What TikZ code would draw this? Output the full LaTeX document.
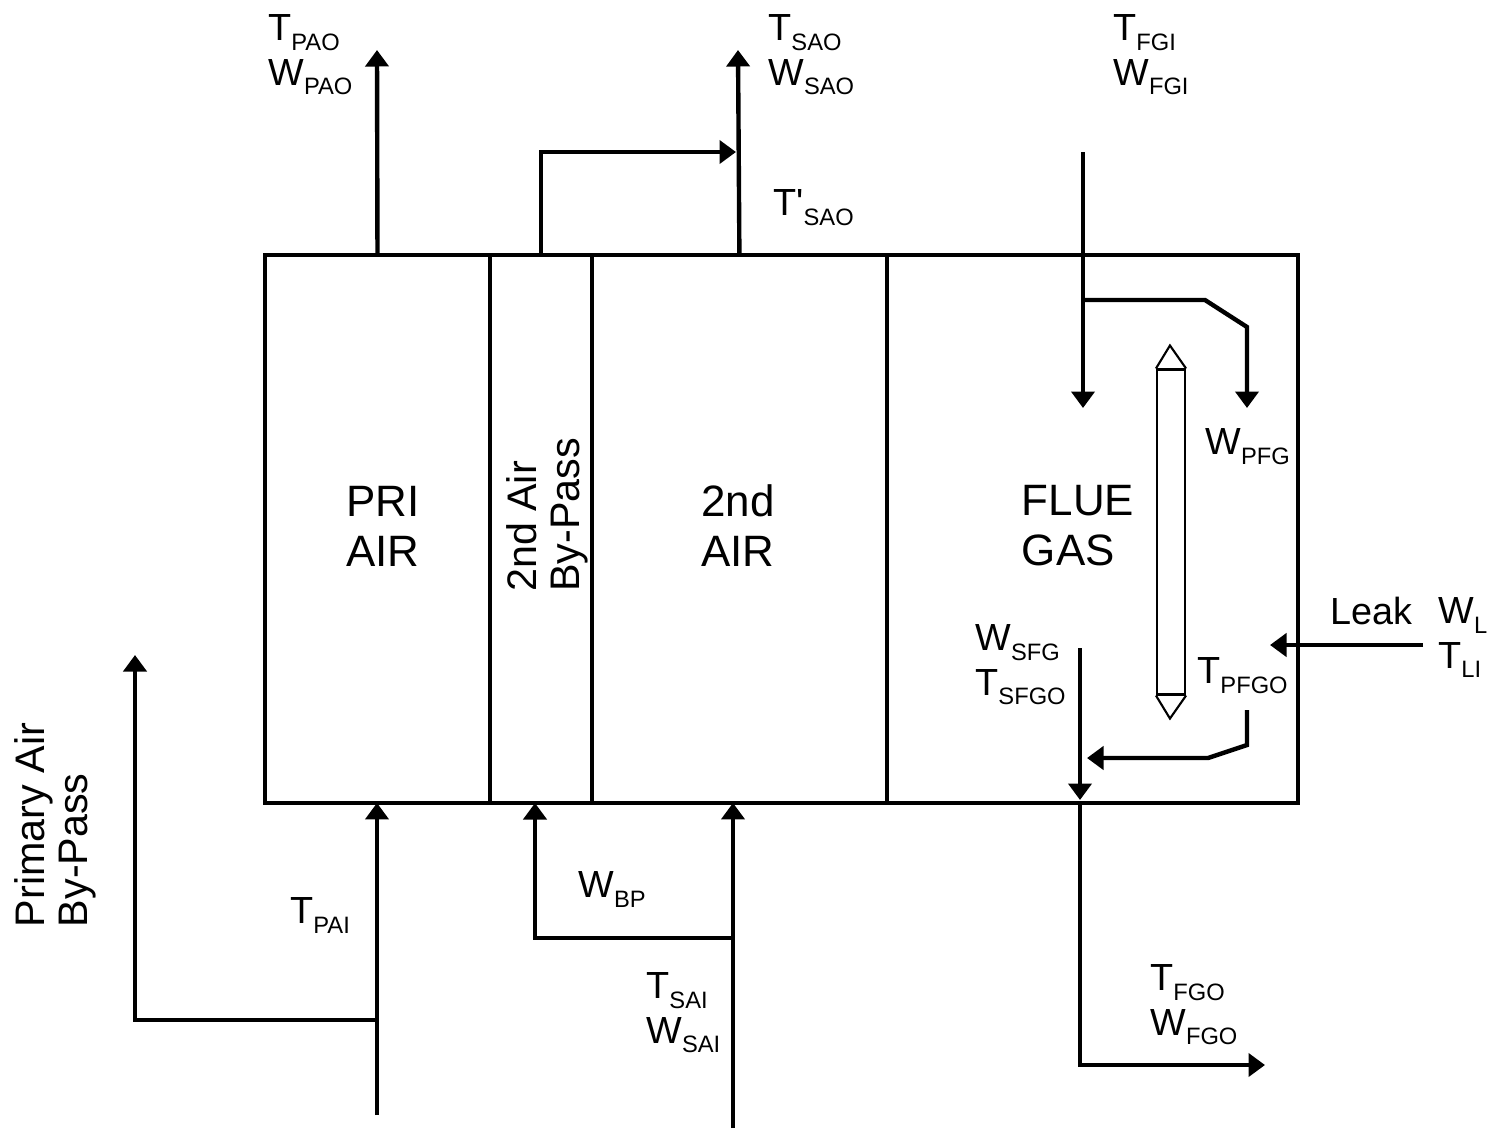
\documentclass[tikz,border=0pt]{standalone}
\usepackage{fontspec}
\setmainfont{Liberation Sans}
\usetikzlibrary{arrows.meta, positioning}

\newcommand{\flowvar}[2]{#1\raisebox{-5.5pt}{\fontsize{13.5}{13.5}\selectfont #2}}

\begin{document}
\begin{tikzpicture}[x=0.02cm, y=-0.02cm]

\tikzstyle{section}=[rectangle,draw,line width=2.3pt,outer sep=0pt,inner sep=0pt,minimum height=10.96cm]
\tikzstyle{big}=[font=\fontsize{25}{28.5}\selectfont,align=left]
\tikzstyle{side}=[font=\fontsize{23.5}{24.5}\selectfont,align=left,rotate=90]
\tikzstyle{var}=[font=\fontsize{21.5}{25.6}\selectfont,align=left,anchor=north west,inner sep=0pt]
\tikzstyle{flow}=[draw,line width=2.5pt,-{Triangle[length=0.33cm,width=0.46cm]}]
\tikzstyle{rim}=[line width=1.2pt]

\useasboundingbox (0,0) rectangle (1494,1130);

% heater sections
\node (pri) [section,minimum width=4.5cm,anchor=north west] at (265,255) {};
\node (bpass) [section,minimum width=2.04cm,right=0pt of pri] {};
\node (sec) [section,minimum width=5.9cm,right=0pt of bpass] {};
\node (flue) [section,minimum width=8.22cm,right=0pt of sec] {};

\node (pritxt) [big] at (383,526) {PRI\\AIR};
\node (bptxt) [side] at (547,515) {2nd Air\\By-Pass};
\node (sectxt) [big] at (738,526) {2nd\\AIR};
\node (fluetxt) [big] at (1078,526) {FLUE\\GAS};
\node (pabtxt) [side] at (55,825) {Primary Air\\By-Pass};

% rotor
\node (rotor) [draw,rim,minimum width=0.56cm,minimum height=6.5cm,inner sep=0pt] at (1171,532) {};
\draw[rim] (rotor.north west) -- ++(14,-23) -- (rotor.north east);
\draw[rim] (rotor.south west) -- ++(14,23) -- (rotor.south east);

% labels
\node (paolbl) [var] at (268,14) {\flowvar{T}{PAO}\\\flowvar{W}{PAO}};
\node (saolbl) [var] at (768,14) {\flowvar{T}{SAO}\\\flowvar{W}{SAO}};
\node (fgilbl) [var] at (1113,14) {\flowvar{T}{FGI}\\\flowvar{W}{FGI}};
\node (saoplbl) [var] at (773,189) {\flowvar{T\textquotesingle}{SAO}};
\node (pfglbl) [var] at (1205,428) {\flowvar{W}{PFG}};
\node (sfglbl) [var] at (975,624) {\flowvar{W}{SFG}\\\flowvar{T}{SFGO}};
\node (pfgolbl) [var] at (1197,657) {\flowvar{T}{PFGO}};
\node (leaklbl) [var] at (1330,597) {Leak};
\node (llbl) [var] at (1438,597) {\flowvar{W}{L}\\\flowvar{T}{LI}};
\node (fgolbl) [var] at (1150,964) {\flowvar{T}{FGO}\\\flowvar{W}{FGO}};
\node (pailbl) [var] at (290,897) {\flowvar{T}{PAI}};
\node (bplbl) [var] at (578,871) {\flowvar{W}{BP}};
\node (sailbl) [var] at (646,972) {\flowvar{T}{SAI}\\\flowvar{W}{SAI}};

% end points
\coordinate (paoout) at (377,50);
\coordinate (saoout) at (738,50);
\coordinate (bpmerge) at (736,152);
\coordinate (fgiin) at (1083,152);
\coordinate (fgisplit) at (1083,300);
\coordinate (fgiend) at (1083,408);
\coordinate (pfgend) at (1247,408);
\coordinate (sfgtop) at (1080,648);
\coordinate (sfgend) at (1080,800);
\coordinate (pfgotop) at (1247,710);
\coordinate (pfgoend) at (1087,758);
\coordinate (leakin) at (1423,645);
\coordinate (leakend) at (1270,645);
\coordinate (fgoout) at (1265,1065);
\coordinate (paiin) at (377,1115);
\coordinate (paisplit) at (377,1020);
\coordinate (pabout) at (135,655);
\coordinate (saiin) at (733,1128);
\coordinate (saisplit) at (733,938);
\coordinate (bpin) at (535,803);

% Connections
\draw[flow] (pri.north) -- (paoout);
\draw[flow] (sec.north) -- (saoout);
\draw[flow] (bpass.north) |- (bpmerge);

\draw[flow] (fgiin) -- (fgiend);
\draw[flow] (fgisplit) -- ++(122,0) -- ++(42,27) -- (pfgend);
\draw[flow] (sfgtop) -- (sfgend);
\draw[flow] (pfgotop) -- ++(0,35) -- ++(-39,13) -- (pfgoend);
\draw[flow] (leakin) -- (leakend);
\draw[flow] (sfgend |- flue.south) |- (fgoout);

\draw[flow] (paiin) -- (paiin |- pri.south);
\draw[flow] (paisplit) -| (pabout);
\draw[flow] (saiin) -- (saiin |- sec.south);
\draw[flow] (saisplit) -| (bpin);

\end{tikzpicture}
\end{document}
